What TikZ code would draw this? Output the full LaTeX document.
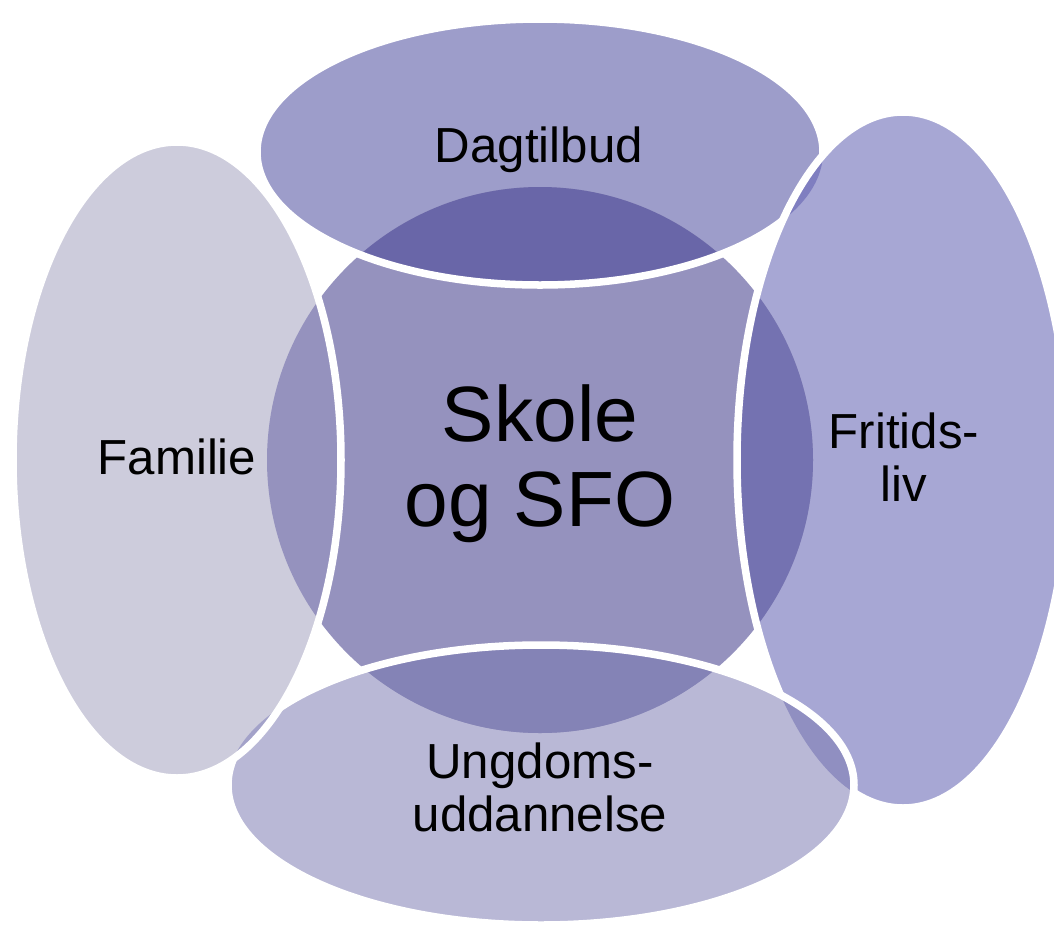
\documentclass[tikz,border=0pt]{standalone}
\usepackage{fontspec}
\setmainfont{Liberation Sans}
\definecolor{famColor}{HTML}{CDCCDC}
\definecolor{dagColor}{HTML}{9D9DCA}
\definecolor{fritColor}{HTML}{A7A7D4}
\definecolor{ungColor}{HTML}{B9B8D6}
\definecolor{skoleColor}{HTML}{9592BE}
\definecolor{skoleDag}{HTML}{6966A8}
\definecolor{skoleFrit}{HTML}{7472B1}
\definecolor{skoleUng}{HTML}{8483B6}
\definecolor{dagFrit}{HTML}{7F7EC0}
\definecolor{fritUng}{HTML}{908FC1}
\definecolor{famUng}{HTML}{A3A2C9}
\tikzstyle{ring} = [draw=white, line width=0.075cm]
\tikzstyle{smallText} = [text=black, align=center, inner sep=0pt,
	font=\fontsize{14}{15.1}\selectfont]
\tikzstyle{bigText} = [smallText, font=\fontsize{22.3}{24.2}\selectfont]
\newcommand{\familieShape}{(177,460) ellipse [x radius=164, y radius=318]}
\newcommand{\dagShape}{(540,152) ellipse [x radius=283, y radius=133]}
\newcommand{\fritShape}{(903,460) ellipse [x radius=166, y radius=348]}
\newcommand{\ungShape}{(541,785) ellipse [x radius=313, y radius=140]}
\newcommand{\skoleShape}{(540,460) circle [radius=273]}
\newcommand{\frameShape}{(0,0) rectangle (1054,927)}

\begin{document}
\begin{tikzpicture}[x=0.01cm, y=-0.01cm]
  \useasboundingbox \frameShape;
  \clip \frameShape;
  % the four outer fields
  \fill[famColor] \familieShape;
  \fill[dagColor] \dagShape;
  \fill[fritColor] \fritShape;
  \fill[ungColor] \ungShape;
  \begin{scope}
    \clip \dagShape;
    \fill[dagFrit] \fritShape;
  \end{scope}
  \begin{scope}
    \clip \fritShape;
    \fill[fritUng] \ungShape;
  \end{scope}
  \begin{scope}
    \clip \familieShape;
    \fill[famUng] \ungShape;
  \end{scope}
  % the middle
  \fill[skoleColor] \skoleShape;
  \begin{scope}
    \clip \skoleShape;
    \fill[skoleDag] \dagShape;
    \fill[skoleFrit] \fritShape;
    \fill[skoleUng] \ungShape;
  \end{scope}
  % white rims, each one under the next
  \begin{scope}[even odd rule]
    \clip \frameShape \fritShape;
    \draw[ring] \dagShape;
  \end{scope}
  \begin{scope}[even odd rule]
    \clip \frameShape \ungShape;
    \draw[ring] \fritShape;
  \end{scope}
  \begin{scope}[even odd rule]
    \clip \frameShape \familieShape;
    \draw[ring] \ungShape;
  \end{scope}
  \begin{scope}[even odd rule]
    \clip \frameShape \dagShape;
    \draw[ring] \familieShape;
  \end{scope}
  \node[smallText, anchor=base] (dagtilbud) at (539,162) {Dagtilbud};
  \node[smallText, anchor=base] (familie) at (177,474) {Familie};
  \node[smallText] (fritid) at (904,457) {Fritids-\\liv};
  \node[smallText] (ungdom) at (540,787) {Ungdoms-\\uddannelse};
  \node[bigText] (skole) at (540,464) {Skole\\og SFO};
\end{tikzpicture}
\end{document}
